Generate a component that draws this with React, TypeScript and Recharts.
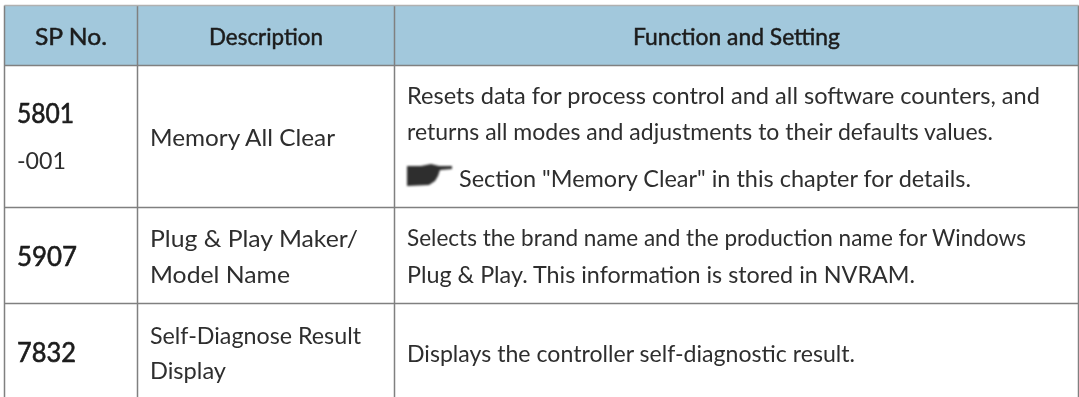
import React from "react";
import { ComposedChart, XAxis, YAxis, Scatter, ReferenceArea, ReferenceLine } from "recharts";

// ---- table content ----
const headers = ["SP No.", "Description", "Function and Setting"];
const spNumbers = ["5801", "5907", "7832"];
const spSubNumbers = ["-001"];
const descriptions = ["Memory All Clear", "Plug & Play Maker/", "Model Name", "Self-Diagnose Result", "Display"];
const functionLines = [
  "Resets data for process control and all software counters, and",
  "returns all modes and adjustments to their defaults values.",
  "Section \"Memory Clear\" in this chapter for details.",
  "Selects the brand name and the production name for Windows",
  "Plug & Play. This information is stored in NVRAM.",
  "Displays the controller self-diagnostic result.",
];

// ---- layout (page geometry, separate from content) ----
const W = 1079;
const H = 397;
const colEdges = [4.5, 137.5, 394.5, 1078.5];
const rowEdges = [5.5, 65.5, 207.5, 303.5];
const headerPos = [[35, 44.5, 72], [209, 44.5, 114], [633, 44.5, 207]];
const spPos = [[17, 122.5, 57], [17, 265.5, 60], [17, 362, 59]];
const subPos = [[17, 169, 49]];
const descPos = [[150, 145.5, 185], [150, 246.5, 208], [150, 282.5, 140], [150, 343.5, 211], [150, 378.5, 76]];
const funcPos = [[407, 103.5, 633], [407, 140, 586], [459, 187, 512], [407, 246, 619], [407, 283, 508], [407, 362, 448]];
const iconPos = [[407, 187]];

type Item = { x: number; y: number; text: string; w: number };
const zip = (texts: string[], pos: number[][]): Item[] =>
  texts.map((text, i) => ({ x: pos[i][0], y: pos[i][1], w: pos[i][2], text }));

const textShape = (size: number, stroke: number, fill: string) => (p: any) => (
  <text
    x={p.cx}
    y={p.cy}
    fontFamily="Lato, 'Noto Sans', sans-serif"
    fontSize={size}
    fontWeight={400}
    fill={fill}
    stroke={fill}
    strokeWidth={stroke}
    textLength={p.payload.w}
    lengthAdjust="spacingAndGlyphs"
    style={{ filter: "blur(0.25px)" }}
  >
    {p.payload.text}
  </text>
);

const handShape = (p: any) => {
  const x = p.cx;
  const y = p.cy;
  const pts = [
    [0, -21], [14, -21], [24, -23], [32, -21], [45, -21], [45, -18], [33, -17],
    [31, -11], [28, -6], [22, -2], [0, -1],
  ].map(([a, b]) => `${x + a},${y + b}`).join(" ");
  return <polygon points={pts} fill="#2e2e2e" style={{ filter: "blur(0.8px)" }} />;
};

const lineColor = "#808080";

export default function App() {
  return (
    <div style={{ position: "absolute", left: 0, top: 0, width: W, height: H, background: "#fff" }}>
      <ComposedChart width={W} height={H} margin={{ top: 0, right: 0, bottom: 0, left: 0 }} data={[]}>
        <XAxis type="number" dataKey="x" domain={[0, W]} hide />
        <YAxis type="number" dataKey="y" domain={[0, H]} reversed hide />
        <ReferenceArea
          x1={colEdges[0]} x2={colEdges[3]} y1={rowEdges[0]} y2={rowEdges[1]}
          fill="#a2c8dc" fillOpacity={1} stroke="none" ifOverflow="visible"
        />
        {colEdges.map((x) => (
          <ReferenceLine key={x} segment={[{ x, y: rowEdges[0] }, { x, y: H }]} stroke={lineColor} strokeWidth={1.5} ifOverflow="visible" />
        ))}
        {rowEdges.map((y, i) => (
          <ReferenceLine
            key={y}
            segment={[{ x: colEdges[0], y }, { x: colEdges[3], y }]}
            stroke={i === 0 ? "#b0b0b0" : lineColor}
            strokeWidth={1.5}
            ifOverflow="visible"
          />
        ))}
        <Scatter data={zip(headers, headerPos)} isAnimationActive={false} shape={textShape(24, 0.5, "#1c1c1c")} />
        <Scatter data={zip(spNumbers, spPos)} isAnimationActive={false} shape={textShape(26, 0.6, "#1c1c1c")} />
        <Scatter data={zip(spSubNumbers, subPos)} isAnimationActive={false} shape={textShape(24, 0, "#2e2e2e")} />
        <Scatter data={zip(descriptions, descPos)} isAnimationActive={false} shape={textShape(24, 0, "#2e2e2e")} />
        <Scatter data={zip(functionLines, funcPos)} isAnimationActive={false} shape={textShape(24, 0, "#2e2e2e")} />
        <Scatter data={iconPos.map(([x, y]) => ({ x, y }))} isAnimationActive={false} shape={handShape} />
      </ComposedChart>
    </div>
  );
}
